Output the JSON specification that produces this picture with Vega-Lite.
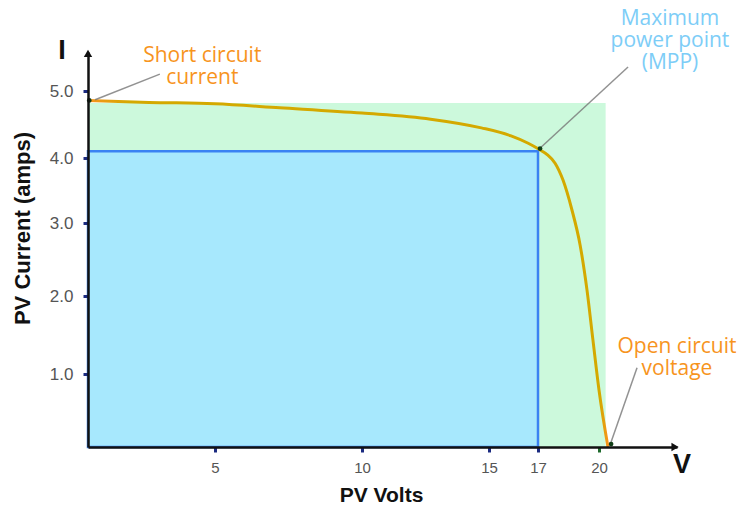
{
  "$schema": "https://vega.github.io/schema/vega-lite/v6.json",
  "width": 592,
  "height": 407,
  "autosize": "none",
  "padding": {"left": 88, "top": 40, "right": 62, "bottom": 61},
  "background": "white",
  "config": {"view": {"stroke": null}},
  "datasets": {
    "regions": [
      {"name": "available", "x": 0, "x2": 20.34, "y": 0, "y2": 4.82},
      {"name": "mpp", "x": 0, "x2": 17, "y": 0, "y2": 4.1}
    ],
    "curve": [
      {"x": 0, "y": 4.86},
      {"x": 2.4, "y": 4.83},
      {"x": 5, "y": 4.81},
      {"x": 7.2, "y": 4.75},
      {"x": 10, "y": 4.67},
      {"x": 12.7, "y": 4.58},
      {"x": 14.7, "y": 4.45},
      {"x": 15.9, "y": 4.33},
      {"x": 16.6, "y": 4.22},
      {"x": 17.05, "y": 4.13},
      {"x": 17.45, "y": 4.05},
      {"x": 17.84, "y": 3.92},
      {"x": 18.23, "y": 3.66},
      {"x": 18.67, "y": 3.2},
      {"x": 19.07, "y": 2.7},
      {"x": 19.41, "y": 2.08},
      {"x": 19.7, "y": 1.44},
      {"x": 20.0, "y": 0.78},
      {"x": 20.46, "y": 0}
    ],
    "leaders": [
      {"note": "short", "x": 0.28, "y": 4.87, "x2": 2.83, "y2": 5.26},
      {"note": "mpp", "x": 17.15, "y": 4.16, "x2": 21.49, "y2": 5.37},
      {"note": "open", "x": 20.62, "y": 0.07, "x2": 21.95, "y2": 1.08}
    ],
    "dots": [
      {"point": "Isc", "x": 0.05, "y": 4.86},
      {"point": "MPP", "x": 17.1, "y": 4.14},
      {"point": "Voc", "x": 20.62, "y": 0.04}
    ],
    "arrows": [
      {"axis": "I", "x": 0, "y": 5.58},
      {"axis": "V", "x": 23.9, "y": 0}
    ],
    "notes": [
      {"kind": "orange", "label": ["Short circuit", "current"], "x": 4.5, "y": 5.45},
      {"kind": "blue", "label": ["Maximum", "power point", "(MPP)"], "x": 23.64, "y": 6.02},
      {"kind": "orange", "label": ["Open circuit", "voltage"], "x": 24.0, "y": 1.27},
      {"kind": "letter", "label": "I", "x": -1.02, "y": 5.62},
      {"kind": "letter", "label": "V", "x": 24.26, "y": -0.25}
    ]
  },
  "encoding": {
    "x": {
      "field": "x",
      "type": "quantitative",
      "scale": {
        "domain": [0, 5, 10, 15, 17, 20, 24],
        "range": [0, 127, 274, 401, 450, 511, 589],
        "nice": false,
        "zero": false
      },
      "axis": {
        "values": [5, 10, 15, 17, 20],
        "format": "d",
        "labelFont": "Liberation Sans",
        "labelFontSize": 15,
        "labelColor": "#555555",
        "labelPadding": 8,
        "labelFlush": false,
        "tickSize": 5,
        "tickWidth": 3,
        "tickColor": {"condition": {"test": "datum.value === 20", "value": "#1e6a2c"}, "value": "#1a2a80"},
        "domainColor": "#111111",
        "domainWidth": 2.5,
        "grid": false,
        "zindex": 1,
        "title": "PV Volts",
        "titleFont": "Liberation Sans",
        "titleFontSize": 21,
        "titleFontWeight": "bold",
        "titleColor": "#111111",
        "titleBaseline": "alphabetic",
        "titleY": 54,
        "titleX": 293
      }
    },
    "y": {
      "field": "y",
      "type": "quantitative",
      "scale": {
        "domain": [0, 1, 2, 3, 4, 5, 5.6],
        "range": [407, 334, 256, 183, 118, 51, 12],
        "nice": false,
        "zero": false
      },
      "axis": {
        "values": [1, 2, 3, 4, 5],
        "format": ".1f",
        "labelFont": "Liberation Sans",
        "labelFontSize": 17,
        "labelColor": "#555555",
        "labelPadding": 10,
        "labelFlush": false,
        "tickSize": 5,
        "tickWidth": 3,
        "tickColor": "#1a2a80",
        "domainColor": "#111111",
        "domainWidth": 2.5,
        "grid": false,
        "zindex": 1,
        "title": "PV Current (amps)",
        "titleFont": "Liberation Sans",
        "titleFontSize": 22,
        "titleFontWeight": "bold",
        "titleColor": "#111111",
        "titleAngle": -90,
        "titleBaseline": "alphabetic",
        "titleAlign": "center",
        "titleX": -59,
        "titleY": 188
      }
    }
  },
  "layer": [
    {
      "data": {"name": "regions"},
      "transform": [{"filter": "datum.name === 'available'"}],
      "mark": {"type": "rect", "fill": "#ccf9dc"},
      "encoding": {"x2": {"field": "x2"}, "y2": {"field": "y2"}}
    },
    {
      "data": {"name": "regions"},
      "transform": [{"filter": "datum.name === 'mpp'"}],
      "mark": {"type": "rect", "fill": "#a7e8fd", "stroke": "#3a82f3", "strokeWidth": 2.5},
      "encoding": {"x2": {"field": "x2"}, "y2": {"field": "y2"}}
    },
    {
      "data": {"name": "curve"},
      "mark": {
        "type": "line",
        "interpolate": "monotone",
        "strokeWidth": 3,
        "stroke": {
          "gradient": "linear",
          "x1": 0, "y1": 0, "x2": 1, "y2": 0,
          "stops": [
            {"offset": 0, "color": "#f7941d"},
            {"offset": 0.08, "color": "#d4a900"},
            {"offset": 0.985, "color": "#d4a900"},
            {"offset": 1, "color": "#f7941d"}
          ]
        }
      },
      "encoding": {}
    },
    {
      "data": {"name": "leaders"},
      "mark": {"type": "rule", "color": "#777777", "opacity": 0.8, "strokeWidth": 1.5},
      "encoding": {"x2": {"field": "x2"}, "y2": {"field": "y2"}}
    },
    {
      "data": {"name": "dots"},
      "mark": {"type": "point", "filled": true, "color": "#123f18", "size": 22, "opacity": 1},
      "encoding": {}
    },
    {
      "data": {"name": "arrows"},
      "mark": {"type": "point", "filled": true, "color": "#111111", "size": 70, "opacity": 1},
      "encoding": {
        "shape": {"field": "axis", "type": "nominal", "scale": {"domain": ["I", "V"], "range": ["triangle-up", "triangle-right"]}, "legend": null}
      }
    },
    {
      "data": {"name": "notes"},
      "transform": [{"filter": "datum.kind === 'orange'"}],
      "mark": {"type": "text", "font": "Open Sans", "fontSize": 21, "color": "#f7941d", "align": "center", "baseline": "alphabetic", "lineHeight": 22},
      "encoding": {"text": {"field": "label"}}
    },
    {
      "data": {"name": "notes"},
      "transform": [{"filter": "datum.kind === 'blue'"}],
      "mark": {"type": "text", "font": "Open Sans", "fontSize": 21, "color": "#7dcdf7", "align": "center", "baseline": "alphabetic", "lineHeight": 22},
      "encoding": {"text": {"field": "label"}}
    },
    {
      "data": {"name": "notes"},
      "transform": [{"filter": "datum.kind === 'letter'"}],
      "mark": {"type": "text", "font": "Liberation Sans", "fontSize": 27, "fontWeight": "bold", "color": "#111111", "align": "center", "baseline": "middle"},
      "encoding": {"text": {"field": "label"}}
    }
  ]
}
